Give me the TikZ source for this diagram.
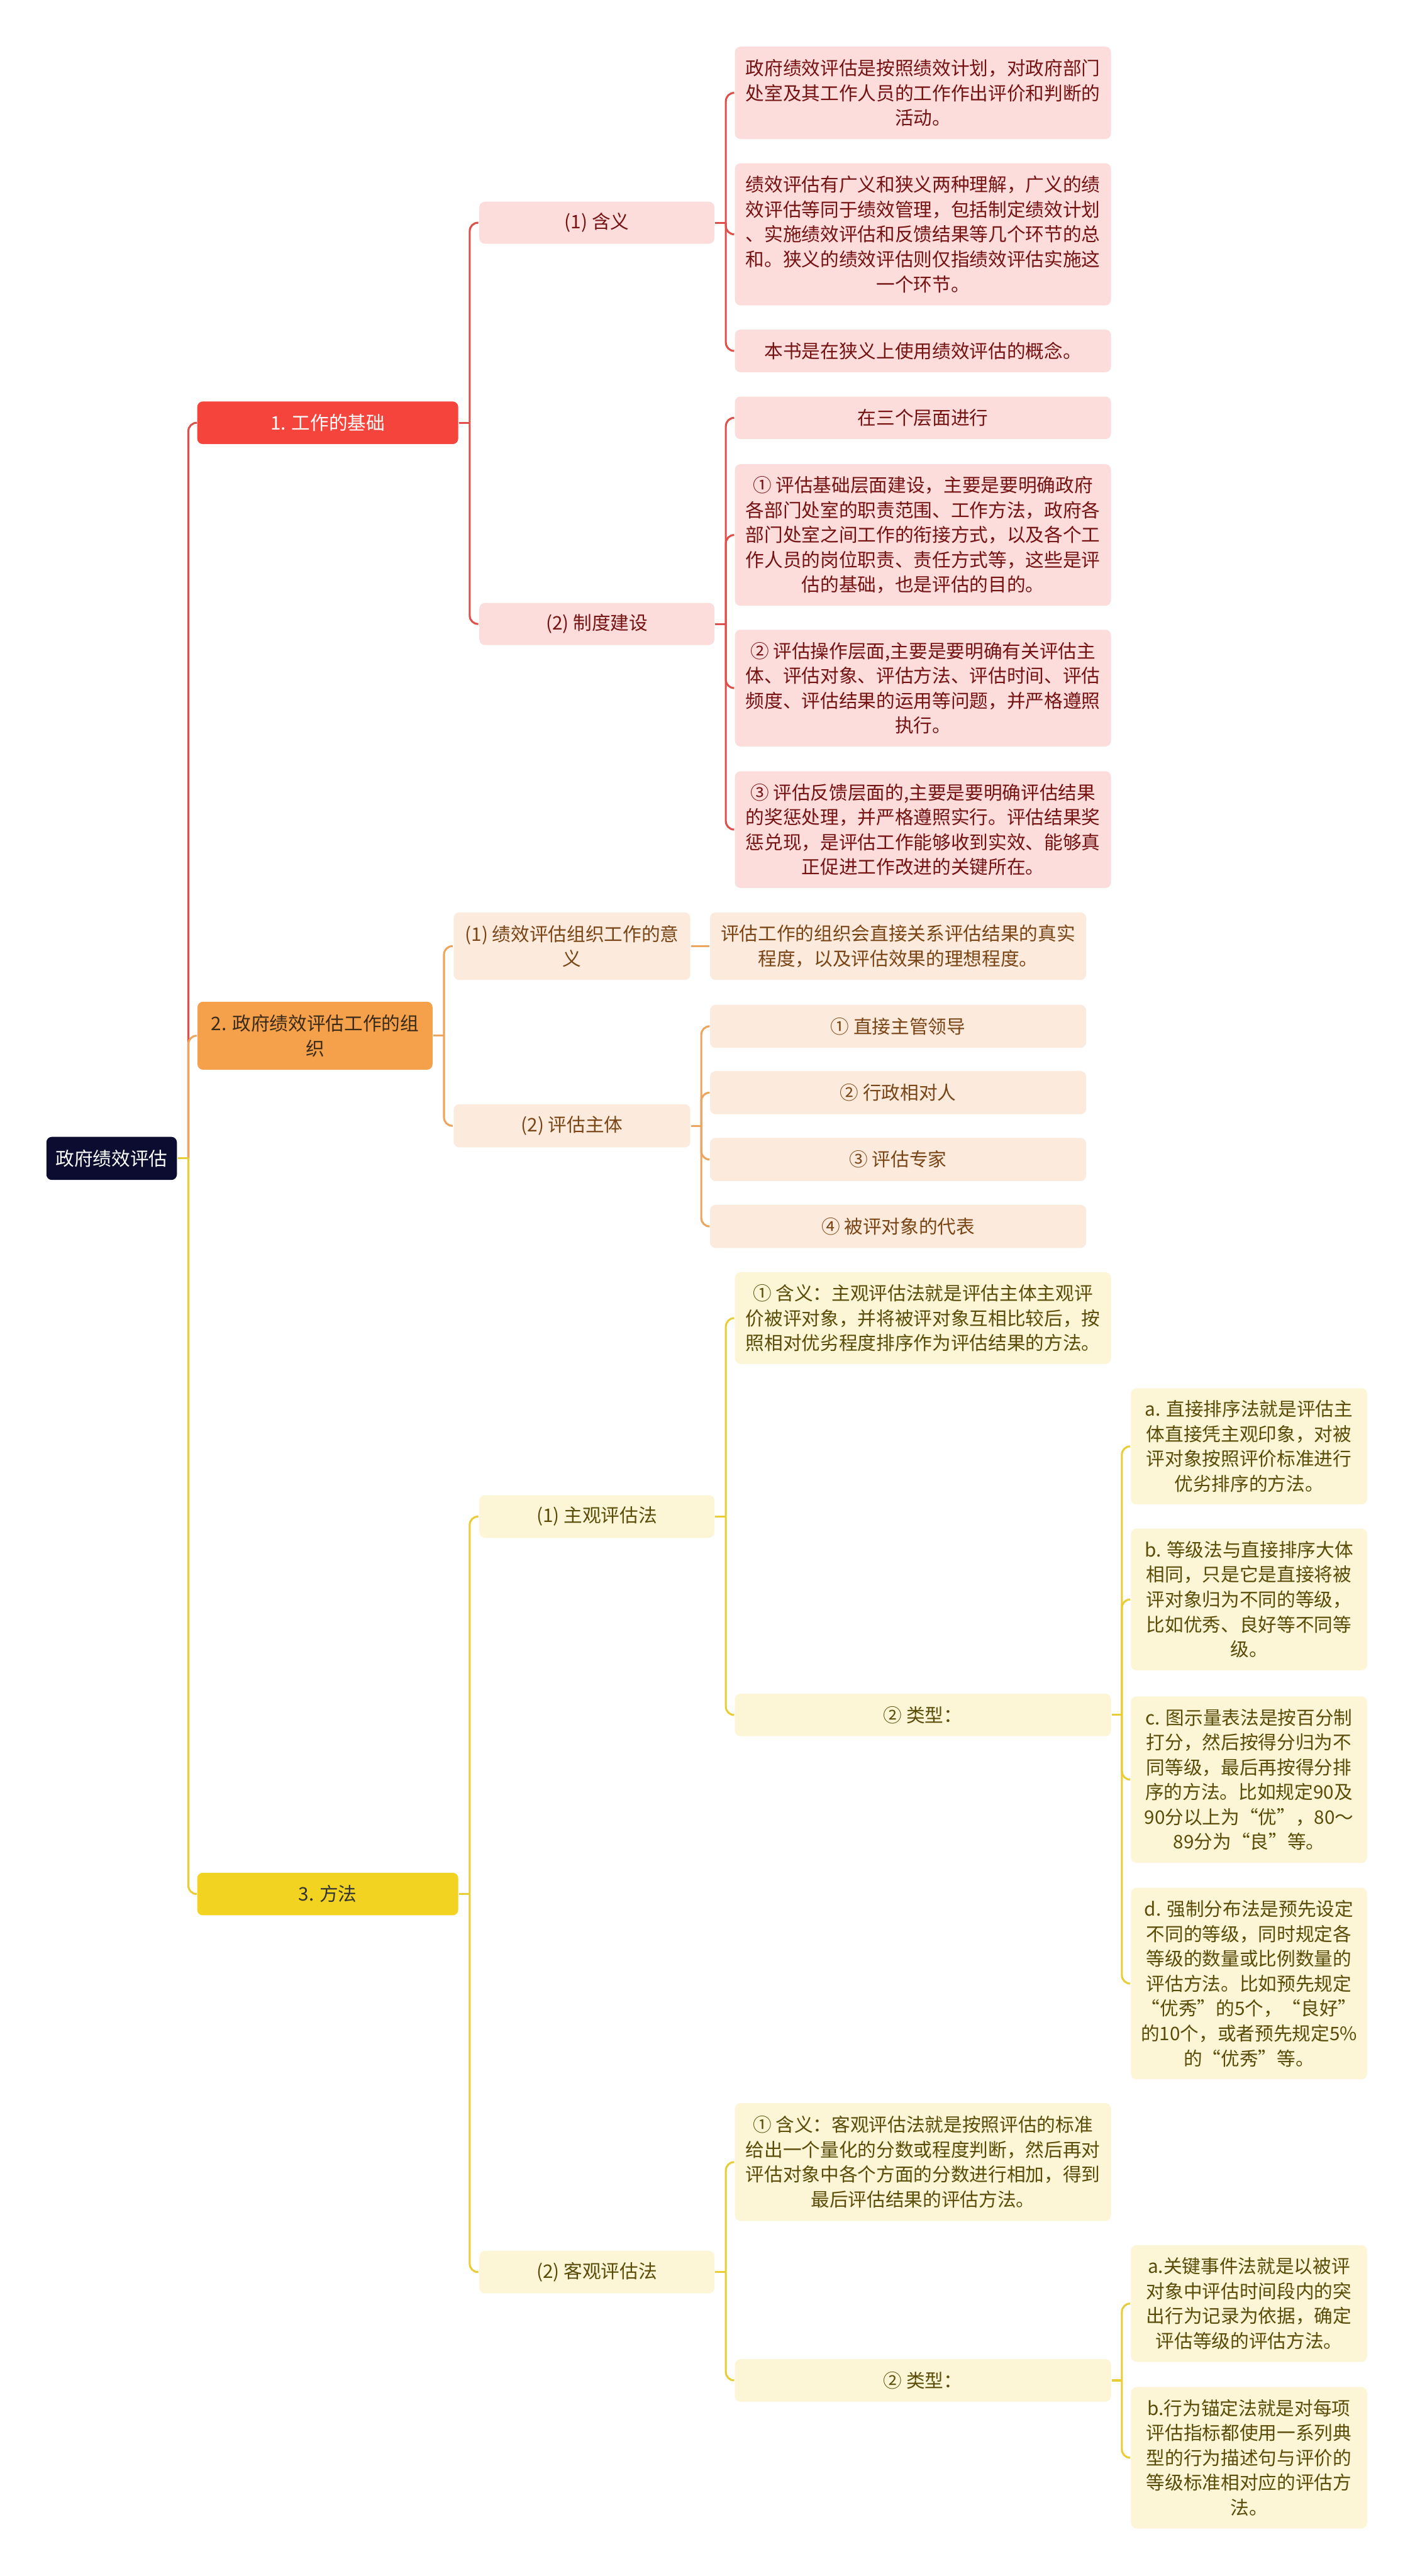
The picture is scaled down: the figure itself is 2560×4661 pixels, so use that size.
\documentclass[tikz,border=0pt]{standalone}
\usepackage{fontspec}
\setmainfont{Noto Sans CJK SC}
\usetikzlibrary{positioning}

\definecolor{rootfill}{HTML}{0C0C30}
\definecolor{redfill}{HTML}{F5443C}
\definecolor{redline}{HTML}{E0504A}
\definecolor{redsoft}{HTML}{FDDCDC}
\definecolor{redtext}{HTML}{751212}
\definecolor{orgfill}{HTML}{F5A04B}
\definecolor{orgline}{HTML}{EDA45C}
\definecolor{orgsoft}{HTML}{FCEBDC}
\definecolor{orgtext}{HTML}{7A4516}
\definecolor{orgdark}{HTML}{3A2A18}
\definecolor{yelfill}{HTML}{F2D322}
\definecolor{yelline}{HTML}{E8CD34}
\definecolor{yelsoft}{HTML}{FCF6D6}
\definecolor{yeltext}{HTML}{5A4C08}

\begin{document}
\begin{tikzpicture}[x=0.01cm,y=-0.01cm,line width=1pt]
  \tikzstyle{box}=[rectangle,rounded corners=0.1cm,align=center,inner xsep=0.05cm,inner ysep=1pt,
                   font=\fontsize{9.6pt}{12.8pt}\selectfont]
  \tikzstyle{link}=[rounded corners=0.15cm]
  \tikzstyle{rootbox}=[box,fill=rootfill,text=white,minimum width=2.36cm,minimum height=0.78cm]
  \tikzstyle{redtop}=[box,fill=redfill,text=white,minimum width=4.72cm,minimum height=0.77cm]
  \tikzstyle{orgtop}=[box,fill=orgfill,text=orgdark,minimum width=4.25cm,minimum height=1.23cm]
  \tikzstyle{yeltop}=[box,fill=yelfill,text=black!80,minimum width=4.72cm,minimum height=0.77cm]
  \tikzstyle{redmid}=[box,fill=redsoft,text=redtext,minimum width=4.25cm,minimum height=0.76cm]
  \tikzstyle{orgmid}=[box,fill=orgsoft,text=orgtext,minimum width=4.28cm,minimum height=0.78cm]
  \tikzstyle{yelmid}=[box,fill=yelsoft,text=yeltext,minimum width=4.25cm,minimum height=0.77cm]
  \tikzstyle{redleaf}=[box,fill=redsoft,text=redtext,minimum width=6.8cm,minimum height=0.77cm]
  \tikzstyle{orgleaf}=[box,fill=orgsoft,text=orgtext,minimum width=6.8cm,minimum height=0.78cm]
  \tikzstyle{yelleaf}=[box,fill=yelsoft,text=yeltext,minimum width=6.8cm,minimum height=0.77cm]
  \tikzstyle{yelsmall}=[box,fill=yelsoft,text=yeltext,minimum width=4.27cm]

  \fill[white] (0,0) rectangle (2560,4661);
  \useasboundingbox (0,0) rectangle (2560,4661);

  \node[rootbox] (root) at (202,2096) {政府绩效评估};

  % 1. 工作的基础
  \node[redtop] (base) at (593,765) {1. 工作的基础};
  \node[redmid] (basemean) at (1080,403) {(1) 含义};
  \node[redmid] (basesys) at (1080,1129) {(2) 制度建设};
  \node[redleaf,minimum height=1.67cm] (mean1) at (1670,168)
    {政府绩效评估是按照绩效计划，对政府部门\\处室及其工作人员的工作作出评价和判断的\\活动。};
  \node[redleaf,minimum height=2.57cm] (mean2) at (1670,424)
    {绩效评估有广义和狭义两种理解，广义的绩\\效评估等同于绩效管理，包括制定绩效计划\\、实施绩效评估和反馈结果等几个环节的总\\和。狭义的绩效评估则仅指绩效评估实施这\\一个环节。};
  \node[redleaf] (mean3) at (1670,635) {本书是在狭义上使用绩效评估的概念。};
  \node[redleaf] (sys1) at (1670,756) {在三个层面进行};
  \node[redleaf,minimum height=2.56cm] (sys2) at (1670,968)
    {① 评估基础层面建设，主要是要明确政府\\各部门处室的职责范围、工作方法，政府各\\部门处室之间工作的衔接方式，以及各个工\\作人员的岗位职责、责任方式等，这些是评\\估的基础，也是评估的目的。};
  \node[redleaf,minimum height=2.11cm] (sys3) at (1670,1245)
    {② 评估操作层面,主要是要明确有关评估主\\体、评估对象、评估方法、评估时间、评估\\频度、评估结果的运用等问题，并严格遵照\\执行。};
  \node[redleaf,minimum height=2.11cm] (sys4) at (1670,1501)
    {③ 评估反馈层面的,主要是要明确评估结果\\的奖惩处理，并严格遵照实行。评估结果奖\\惩兑现，是评估工作能够收到实效、能够真\\正促进工作改进的关键所在。};

  % 2. 政府绩效评估工作的组织
  \node[orgtop] (org) at (570,1874) {2. 政府绩效评估工作的组\\织};
  \node[orgmid,minimum height=1.22cm] (orgsig) at (1035,1712) {(1) 绩效评估组织工作的意\\义};
  \node[orgmid] (orgsub) at (1035,2037) {(2) 评估主体};
  \node[orgleaf,minimum height=1.22cm] (sig1) at (1625,1712)
    {评估工作的组织会直接关系评估结果的真实\\程度，以及评估效果的理想程度。};
  \node[orgleaf] (sub1) at (1625,1857) {① 直接主管领导};
  \node[orgleaf] (sub2) at (1625,1977) {② 行政相对人};
  \node[orgleaf] (sub3) at (1625,2098) {③ 评估专家};
  \node[orgleaf] (sub4) at (1625,2219) {④ 被评对象的代表};

  % 3. 方法
  \node[yeltop] (meth) at (593,3427) {3. 方法};
  \node[yelmid] (subj) at (1080,2744) {(1) 主观评估法};
  \node[yelmid] (obj) at (1080,4111) {(2) 客观评估法};
  \node[yelleaf,minimum height=1.66cm] (subjdef) at (1670,2385)
    {① 含义：主观评估法就是评估主体主观评\\价被评对象，并将被评对象互相比较后，按\\照相对优劣程度排序作为评估结果的方法。};
  \node[yelleaf] (subjtype) at (1670,3103) {② 类型：};
  \node[yelsmall,minimum height=2.10cm] (subja) at (2260,2617)
    {a. 直接排序法就是评估主\\体直接凭主观印象，对被\\评对象按照评价标准进行\\优劣排序的方法。};
  \node[yelsmall,minimum height=2.56cm] (subjb) at (2260,2894)
    {b. 等级法与直接排序大体\\相同，只是它是直接将被\\评对象归为不同的等级，\\比如优秀、良好等不同等\\级。};
  \node[yelsmall,minimum height=3.01cm] (subjc) at (2260,3220)
    {c. 图示量表法是按百分制\\打分，然后按得分归为不\\同等级，最后再按得分排\\序的方法。比如规定90及\\90分以上为“优”，80～\\89分为“良”等。};
  \node[yelsmall,minimum height=3.46cm] (subjd) at (2260,3589)
    {d. 强制分布法是预先设定\\不同的等级，同时规定各\\等级的数量或比例数量的\\评估方法。比如预先规定\\“优秀”的5个，“良好”\\的10个，或者预先规定5\%\\的“优秀”等。};
  \node[yelleaf,minimum height=2.13cm] (objdef) at (1670,3912)
    {① 含义：客观评估法就是按照评估的标准\\给出一个量化的分数或程度判断，然后再对\\评估对象中各个方面的分数进行相加，得到\\最后评估结果的评估方法。};
  \node[yelleaf] (objtype) at (1670,4307) {② 类型：};
  \node[yelsmall,minimum height=2.11cm] (obja) at (2260,4168)
    {a.关键事件法就是以被评\\对象中评估时间段内的突\\出行为记录为依据，确定\\评估等级的评估方法。};
  \node[yelsmall,minimum height=2.56cm] (objb) at (2260,4447)
    {b.行为锚定法就是对每项\\评估指标都使用一系列典\\型的行为描述句与评价的\\等级标准相对应的评估方\\法。};

  % junctions
  \coordinate[right=0.19cm of root.east] (rootj);
  \coordinate[right=0.19cm of base.east] (basej);
  \coordinate[right=0.19cm of basemean.east] (meanj);
  \coordinate[right=0.19cm of basesys.east] (sysj);
  \coordinate[right=0.19cm of org.east] (orgj);
  \coordinate[right=0.18cm of orgsub.east] (subj-j);
  \coordinate[right=0.19cm of meth.east] (methj);
  \coordinate[right=0.19cm of subj.east] (subjj);
  \coordinate[right=0.19cm of obj.east] (objj);
  \coordinate[right=0.18cm of subjtype.east] (stypej);
  \coordinate[right=0.18cm of objtype.east] (otypej);

  % connectors
  \draw[link,redline] (rootj) |- (base.west);
  \draw[link,orgline] (rootj) |- (org.west);
  \draw[link,yelline] (rootj) |- (meth.west);
  \draw[yelline] (root.east) -- (rootj);

  \draw[redline] (base.east) -- (basej);
  \draw[link,redline] (basej) |- (basemean.west);
  \draw[link,redline] (basej) |- (basesys.west);
  \draw[redline] (basemean.east) -- (meanj);
  \draw[link,redline] (meanj) |- (mean1.west);
  \draw[link,redline] (meanj) |- (mean2.west);
  \draw[link,redline] (meanj) |- (mean3.west);
  \draw[redline] (basesys.east) -- (sysj);
  \draw[link,redline] (sysj) |- (sys1.west);
  \draw[link,redline] (sysj) |- (sys2.west);
  \draw[link,redline] (sysj) |- (sys3.west);
  \draw[link,redline] (sysj) |- (sys4.west);

  \draw[orgline] (org.east) -- (orgj);
  \draw[link,orgline] (orgj) |- (orgsig.west);
  \draw[link,orgline] (orgj) |- (orgsub.west);
  \draw[orgline] (orgsig.east) -- (sig1.west);
  \draw[orgline] (orgsub.east) -- (subj-j);
  \draw[link,orgline] (subj-j) |- (sub1.west);
  \draw[link,orgline] (subj-j) |- (sub2.west);
  \draw[link,orgline] (subj-j) |- (sub3.west);
  \draw[link,orgline] (subj-j) |- (sub4.west);

  \draw[yelline] (meth.east) -- (methj);
  \draw[link,yelline] (methj) |- (subj.west);
  \draw[link,yelline] (methj) |- (obj.west);
  \draw[yelline] (subj.east) -- (subjj);
  \draw[link,yelline] (subjj) |- (subjdef.west);
  \draw[link,yelline] (subjj) |- (subjtype.west);
  \draw[yelline] (subjtype.east) -- (stypej);
  \draw[link,yelline] (stypej) |- (subja.west);
  \draw[link,yelline] (stypej) |- (subjb.west);
  \draw[link,yelline] (stypej) |- (subjc.west);
  \draw[link,yelline] (stypej) |- (subjd.west);
  \draw[yelline] (obj.east) -- (objj);
  \draw[link,yelline] (objj) |- (objdef.west);
  \draw[link,yelline] (objj) |- (objtype.west);
  \draw[yelline] (objtype.east) -- (otypej);
  \draw[link,yelline] (otypej) |- (obja.west);
  \draw[link,yelline] (otypej) |- (objb.west);
\end{tikzpicture}
\end{document}
